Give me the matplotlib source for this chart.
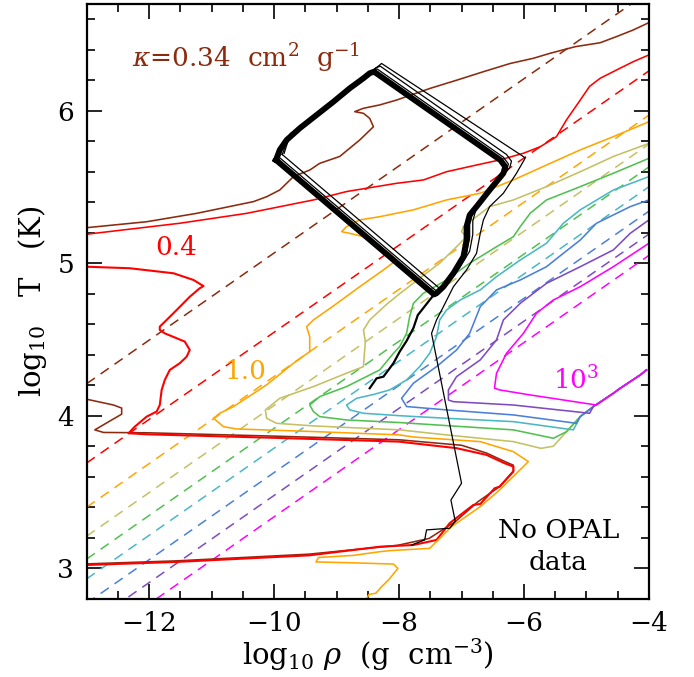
import numpy as np
import matplotlib
matplotlib.use('Agg')
import matplotlib.pyplot as plt
from matplotlib.ticker import MultipleLocator

plt.rcParams['font.family'] = 'DejaVu Serif'
plt.rcParams['mathtext.fontset'] = 'dejavuserif'

# colours of the opacity levels, kappa = 0.34, 0.4, 1, ..., 1e3
kappa_colors = ['#8b2a0e', '#ff0000', '#ffa500', '#c4c064', '#50c050',
                '#4ab8c4', '#4a80d8', '#7e4cc0', '#ff00ff']

# dashed analytic lines: log T at log rho = -13, slope 2/7
dash_logT0 = [4.21, 3.69, 3.40, 3.21, 3.06, 2.93, 2.77, 2.62, 2.48]
dash_slope = 2.0 / 7.0

# ---- OPAL contours (log rho, log T) ----
brown_up_x = [-13.0, -12.04, -11.24, -10.33, -10.12, -9.91, -9.69, -9.43, -9.27, -8.95, -8.63, -8.41,
              -8.47, -8.57, -8.71, -8.57, -8.31, -8.04, -7.50, -7.08, -6.65, -6.22, -5.85, -5.58,
              -5.18, -4.78, -4.52, -4.25, -4.0]
brown_up_y = [5.233, 5.272, 5.327, 5.404, 5.436, 5.48, 5.568, 5.611, 5.655, 5.70, 5.808, 5.895,
              5.95, 5.983, 5.994, 6.016, 6.038, 6.07, 6.147, 6.20, 6.256, 6.31, 6.344, 6.377,
              6.42, 6.446, 6.486, 6.53, 6.578]
brown_lo_x = [-13.0, -12.57, -12.44, -12.44, -12.65, -12.87, -12.73, -12.04, -10.0, -8.0, -7.0, -6.6,
              -6.31, -6.17, -6.17, -6.39, -6.74, -7.10, -7.52, -8.02, -9.44, -11.56, -13.0]
brown_lo_y = [4.108, 4.07, 4.05, 4.01, 3.96, 3.907, 3.89, 3.888, 3.866, 3.842, 3.806, 3.755,
              3.70, 3.675, 3.638, 3.535, 3.435, 3.305, 3.195, 3.15, 3.092, 3.048, 3.028]

red_up_x = [-13.0, -11.51, -10.44, -9.37, -8.84, -8.04, -7.61, -7.24, -6.76, -6.39, -6.01, -5.74,
            -5.48, -5.32, -5.21, -5.10, -4.95, -4.78, -4.52, -4.25, -4.0]
red_up_y = [5.19, 5.262, 5.327, 5.415, 5.47, 5.524, 5.546, 5.60, 5.644, 5.677, 5.721, 5.764,
            5.83, 5.94, 6.005, 6.07, 6.16, 6.213, 6.267, 6.322, 6.366]
red_lo_x = [-13.0, -12.31, -11.61, -11.29, -11.13, -11.19, -11.35, -11.56, -11.72, -11.83, -11.83,
            -11.75, -11.56, -11.43, -11.35, -11.40, -11.51, -11.67, -11.75, -11.80, -11.83, -11.88,
            -12.04, -12.23, -12.33, -12.04, -10.0, -8.0, -7.77, -7.08, -6.6, -6.31, -6.17, -6.17,
            -6.39, -6.47, -6.70, -6.81, -7.19, -7.40, -7.77, -8.30, -9.44, -10.14, -11.56, -13.0]
red_lo_y = [4.977, 4.967, 4.934, 4.89, 4.85, 4.836, 4.78, 4.693, 4.628, 4.584, 4.562,
            4.54, 4.508, 4.486, 4.431, 4.387, 4.344, 4.30, 4.234, 4.169, 4.07, 4.027,
            3.994, 3.928, 3.885, 3.878, 3.855, 3.83, 3.819, 3.787, 3.743, 3.688, 3.666, 3.633,
            3.535, 3.524, 3.421, 3.415, 3.295, 3.185, 3.152, 3.141, 3.084, 3.07, 3.041, 3.021]

orange_x = [-4.0, -4.57, -5.10, -5.64, -6.17, -6.70, -7.24, -7.77, -8.31, -8.63, -8.84, -8.92,
            -8.79, -8.57, -8.36, -8.15, -8.04, -8.25, -8.63, -9.05, -9.37, -9.48, -9.43, -9.43,
            -9.69, -10.12, -10.65, -10.87, -10.97, -10.81, -10.6, -9.37, -7.99, -7.77, -6.70,
            -6.17, -5.93, -6.39, -6.70, -7.16, -7.51, -8.15, -8.31, -8.73, -9.29, -9.33, -8.73,
            -8.09, -8.02, -8.16, -8.30, -8.37, -8.48, -8.52]
orange_y = [5.928, 5.83, 5.743, 5.644, 5.546, 5.459, 5.415, 5.35, 5.305, 5.284, 5.24, 5.207,
            5.196, 5.174, 5.12, 5.065, 5.02, 4.956, 4.846, 4.72, 4.628, 4.584, 4.518, 4.42,
            4.344, 4.202, 4.06, 4.016, 3.983, 3.928, 3.913, 3.896, 3.874, 3.86, 3.83,
            3.764, 3.699, 3.513, 3.404, 3.272, 3.13, 3.115, 3.108, 3.084, 3.07, 3.041, 3.035,
            3.027, 2.998, 2.927, 2.87, 2.836, 2.828, 2.8]

olive_x = [-4.0, -4.57, -5.10, -5.64, -6.17, -6.55, -6.97, -7.0, -6.92, -7.08, -7.35, -7.61, -7.99,
           -8.20, -8.47, -8.57, -8.54, -8.57, -8.84, -9.37, -9.91, -10.14, -10.12, -9.96, -9.37,
           -7.99, -7.24, -6.17, -5.74, -5.71]
olive_y = [5.786, 5.70, 5.60, 5.502, 5.415, 5.371, 5.24, 5.207, 5.174, 5.108, 5.0, 4.92, 4.80,
           4.73, 4.628, 4.562, 4.486, 4.322, 4.279, 4.191, 4.114, 4.038, 3.983, 3.95, 3.933,
           3.907, 3.874, 3.83, 3.787, 3.787]

green_x = [-4.0, -4.57, -5.10, -5.64, -5.90, -6.06, -6.17, -6.44, -6.87, -7.24, -7.61, -7.77, -7.83,
           -7.88, -7.99, -8.09, -8.31, -8.84, -9.27, -9.43, -9.37, -9.27, -8.84, -7.99, -7.24,
           -6.17, -5.53]
green_y = [5.688, 5.59, 5.502, 5.415, 5.328, 5.24, 5.174, 5.108, 5.0, 4.89, 4.803, 4.737, 4.65,
           4.54, 4.453, 4.409, 4.30, 4.191, 4.125, 4.07, 4.027, 3.994, 3.972, 3.955, 3.935,
           3.907, 3.852]

teal_x = [-4.0, -4.57, -5.10, -5.37, -5.64, -6.06, -6.44, -6.70, -7.02, -7.24, -7.35, -7.40, -7.51,
          -7.67, -7.88, -8.15, -8.40, -8.68, -8.84, -8.79, -8.57, -7.99, -7.24, -6.17, -5.21]
teal_y = [5.568, 5.48, 5.35, 5.262, 5.131, 5.021, 4.912, 4.825, 4.759, 4.693, 4.628, 4.518, 4.409,
          4.322, 4.234, 4.169, 4.14, 4.114, 4.07, 4.038, 4.016, 4.0, 3.983, 3.961, 3.907]

blue_x = [-4.0, -4.30, -4.84, -5.10, -5.37, -5.64, -6.06, -6.44, -6.70, -6.87, -7.08, -7.40, -7.77,
          -7.96, -7.88, -7.24, -6.17, -5.16]
blue_y = [5.415, 5.371, 5.262, 5.152, 5.065, 4.977, 4.89, 4.825, 4.715, 4.54, 4.431, 4.322, 4.213,
          4.114, 4.06, 4.038, 4.005, 3.95]

purple_x = [-4.0, -4.30, -4.57, -5.10, -5.64, -6.06, -6.33, -6.44, -6.70, -7.08, -7.21, -7.21,
            -7.13, -6.17, -4.95]
purple_y = [5.284, 5.196, 5.087, 4.977, 4.868, 4.737, 4.628, 4.497, 4.366, 4.256, 4.169, 4.103,
            4.092, 4.07, 4.016]

magenta_x = [-4.0, -4.57, -5.10, -5.53, -5.80, -6.01, -6.28, -6.44, -6.47, -6.47, -6.39, -5.90, -4.84]
magenta_y = [5.131, 4.977, 4.846, 4.759, 4.672, 4.54, 4.409, 4.278, 4.191, 4.18, 4.169, 4.136, 4.07]

# edge of the OPAL table (lower right), shared by the high-kappa contours
edge_x = [-5.71, -5.53, -5.32, -5.10, -4.89, -4.57, -4.46, -4.36, -4.14, -4.04, -4.0]
edge_y = [3.787, 3.80, 3.895, 3.994, 4.06, 4.147, 4.18, 4.187, 4.267, 4.30, 4.30]

# ---- evolutionary tracks ----
loop_x = [-9.97, -9.91, -9.80, -9.59, -9.32, -9.05, -8.79, -8.57, -8.47, -8.40, -6.38, -6.30, -6.33,
          -6.55, -6.76, -6.87, -6.92, -6.92, -6.97, -7.13, -7.29, -7.40, -7.44, -9.97]
loop_y = [5.677, 5.743, 5.808, 5.885, 5.972, 6.059, 6.147, 6.213, 6.246, 6.256, 5.677, 5.633, 5.59,
          5.48, 5.371, 5.316, 5.24, 5.152, 5.043, 4.934, 4.846, 4.803, 4.795, 5.677]
loop_shift = [(0.05, 0.018), (0.10, 0.036)]

tail_x = [-7.44, -7.59, -7.70, -7.77, -7.88, -7.99, -8.09, -8.25, -8.36, -8.47]
tail_y = [4.795, 4.717, 4.66, 4.575, 4.49, 4.42, 4.344, 4.256, 4.245, 4.18]

long_x = [-9.84, -9.74, -9.45, -9.18, -8.91, -8.65, -8.43, -8.28, -6.05, -5.98, -6.12, -6.33, -6.55,
          -6.65, -6.70, -6.76, -6.92, -7.13, -7.29, -7.40, -7.48, -7.00, -7.17, -7.10, -7.19,
          -7.56, -7.59, -7.80]
long_y = [5.72, 5.85, 5.935, 6.02, 6.11, 6.195, 6.26, 6.31, 5.71, 5.69, 5.59, 5.459, 5.371,
          5.284, 5.196, 5.065, 4.956, 4.846, 4.715, 4.628, 4.54, 3.557, 3.447, 3.306, 3.262,
          3.251, 3.185, 3.152]


def with_edge(xs, ys):
    xs = list(xs)
    ys = list(ys)
    for ex, ey in zip(edge_x, edge_y):
        if ey > ys[-1] + 0.01:
            xs.append(ex)
            ys.append(ey)
    return xs, ys


fig = plt.figure(figsize=(6.94, 6.77), dpi=100)
ax = fig.add_axes([0.1249, 0.1157, 0.8102, 0.8784])

xx = np.array([-13.0, -4.0])
for b, c in zip(dash_logT0, kappa_colors):
    ax.plot(xx, b + dash_slope * (xx + 13.0), color=c, lw=1.1, ls=(0, (6.5, 4.6)))

lw_c = 1.15
ax.plot(brown_up_x, brown_up_y, color=kappa_colors[0], lw=lw_c)
ax.plot(brown_lo_x, brown_lo_y, color=kappa_colors[0], lw=lw_c)
ax.plot(red_up_x, red_up_y, color=kappa_colors[1], lw=lw_c)
ax.plot(red_lo_x, red_lo_y, color=kappa_colors[1], lw=1.5)
ax.plot(orange_x, orange_y, color=kappa_colors[2], lw=lw_c)
ax.plot(*with_edge(olive_x, olive_y), color=kappa_colors[3], lw=lw_c)
ax.plot(*with_edge(green_x, green_y), color=kappa_colors[4], lw=lw_c)
ax.plot(*with_edge(teal_x, teal_y), color=kappa_colors[5], lw=lw_c)
ax.plot(*with_edge(blue_x, blue_y), color=kappa_colors[6], lw=lw_c)
ax.plot(*with_edge(purple_x, purple_y), color=kappa_colors[7], lw=lw_c)
ax.plot(*with_edge(magenta_x, magenta_y), color=kappa_colors[8], lw=lw_c)

# tracks
ax.plot(loop_x, loop_y, color='k', lw=4.2, solid_joinstyle='round')
for dx, dy in loop_shift:
    ax.plot(np.array(loop_x) + dx, np.array(loop_y) + dy, color='k', lw=0.9)
ax.plot(tail_x, tail_y, color='k', lw=1.6)
ax.plot(long_x, long_y, color='k', lw=0.9)

# labels on the plot
fs_in = 19
ax.text(-12.27, 6.35, r'$\kappa$=0.34  cm$^{2}$  g$^{-1}$', color=kappa_colors[0], fontsize=fs_in, va='center')
ax.text(-11.56, 5.10, '0.4', color=kappa_colors[1], fontsize=fs_in, ha='center', va='center')
ax.text(-10.45, 4.29, '1.0', color=kappa_colors[2], fontsize=fs_in, ha='center', va='center')
ax.text(-5.17, 4.235, r'10$^{3}$', color=kappa_colors[8], fontsize=fs_in, ha='center', va='center')
ax.text(-5.45, 3.245, 'No OPAL', color='k', fontsize=fs_in, ha='center', va='center')
ax.text(-5.45, 3.04, 'data', color='k', fontsize=fs_in, ha='center', va='center')

ax.set_xlim(-13, -4)
ax.set_ylim(2.8, 6.7)
ax.xaxis.set_major_locator(MultipleLocator(2))
ax.xaxis.set_minor_locator(MultipleLocator(0.5))
ax.yaxis.set_major_locator(MultipleLocator(1))
ax.yaxis.set_minor_locator(MultipleLocator(0.2))
ax.tick_params(which='both', direction='in', top=True, right=True, labelsize=19, pad=9, width=1.2)
ax.tick_params(which='major', length=11)
ax.tick_params(which='minor', length=6)
for s in ax.spines.values():
    s.set_linewidth(1.6)

ax.set_xlabel(r'log$_{10}$ $\rho$  (g  cm$^{-3}$)', fontsize=21, labelpad=0)
ax.set_ylabel(r'log$_{10}$   T   (K)', fontsize=21, labelpad=6)

fig.savefig('out.png', dpi=100)
